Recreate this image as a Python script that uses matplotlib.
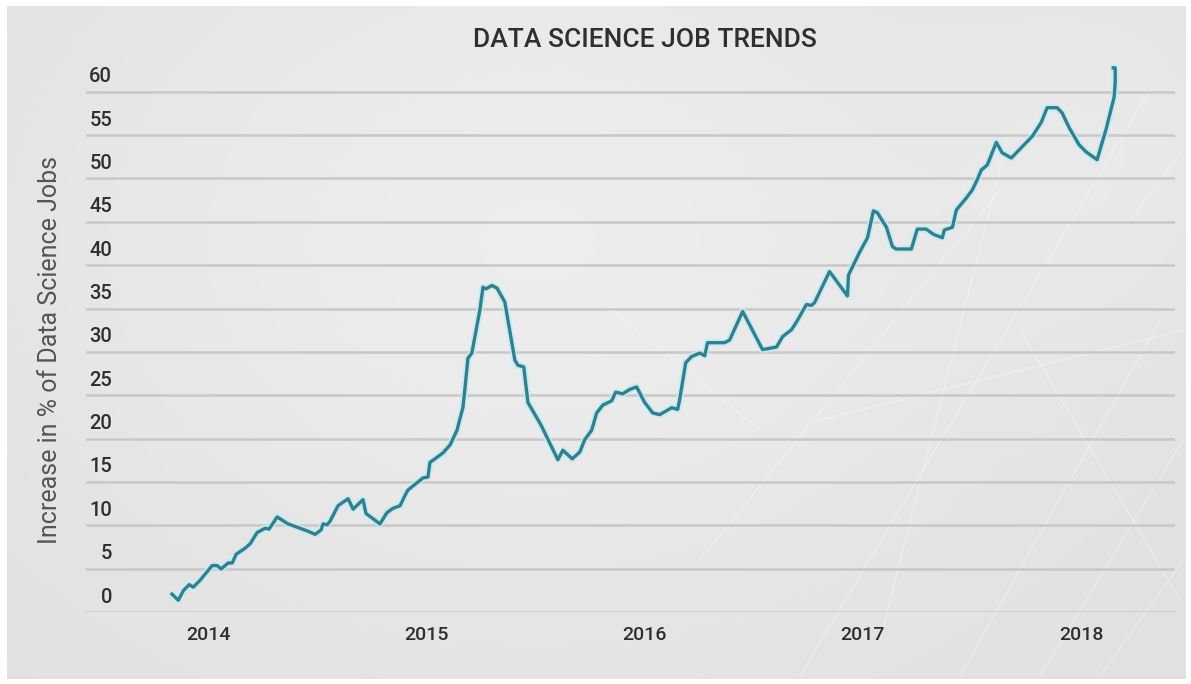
import numpy as np
import matplotlib
matplotlib.use("Agg")
import matplotlib.pyplot as plt

plt.rcParams['font.family'] = ['Roboto', 'DejaVu Sans']

# ---------------- data ----------------
title = "DATA SCIENCE JOB TRENDS"
y_label = "Increase in % of Data Science Jobs"
year_ticks = [2014, 2015, 2016, 2017, 2018]
year_labels = ["2014", "2015", "2016", "2017", "2018"]
pct_ticks = [0, 5, 10, 15, 20, 25, 30, 35, 40, 45, 50, 55, 60]

dates = [
    2013.834, 2013.863, 2013.886, 2013.913, 2013.931, 2013.963, 2014.018, 2014.041,
    2014.059, 2014.092, 2014.110, 2014.128, 2014.169, 2014.192, 2014.224, 2014.261,
    2014.279, 2014.316, 2014.366, 2014.453, 2014.490, 2014.517, 2014.526, 2014.545,
    2014.558, 2014.595, 2014.641, 2014.664, 2014.709, 2014.723, 2014.787, 2014.819,
    2014.847, 2014.879, 2014.902, 2014.915, 2014.984, 2015.007, 2015.016, 2015.039,
    2015.076, 2015.108, 2015.140, 2015.149, 2015.167, 2015.176, 2015.190, 2015.208,
    2015.245, 2015.259, 2015.272, 2015.300, 2015.323, 2015.359, 2015.405, 2015.419,
    2015.446, 2015.460, 2015.465, 2015.525, 2015.602, 2015.625, 2015.668, 2015.703,
    2015.725, 2015.757, 2015.780, 2015.808, 2015.849, 2015.867, 2015.899, 2015.931,
    2015.963, 2016.000, 2016.037, 2016.069, 2016.124, 2016.151, 2016.160, 2016.188,
    2016.215, 2016.252, 2016.275, 2016.288, 2016.366, 2016.389, 2016.449, 2016.540,
    2016.604, 2016.632, 2016.673, 2016.696, 2016.741, 2016.764, 2016.778, 2016.847,
    2016.929, 2016.934, 2016.984, 2017.021, 2017.048, 2017.066, 2017.108, 2017.135,
    2017.152, 2017.222, 2017.249, 2017.290, 2017.323, 2017.364, 2017.373, 2017.410,
    2017.428, 2017.474, 2017.501, 2017.524, 2017.542, 2017.570, 2017.611, 2017.638,
    2017.680, 2017.730, 2017.776, 2017.817, 2017.844, 2017.890, 2017.913, 2017.945,
    2017.991, 2018.023, 2018.073, 2018.114, 2018.151, 2018.156, 2018.156, 2018.147,
]
pct = [
    0.1, -0.6, 0.5, 1.2, 0.9, 1.7, 3.4, 3.4,
    3.0, 3.7, 3.7, 4.7, 5.4, 5.9, 7.2, 7.7,
    7.6, 9.0, 8.2, 7.4, 7.0, 7.5, 8.2, 8.1,
    8.5, 10.3, 11.1, 9.9, 11.0, 9.4, 8.2, 9.5,
    10.0, 10.3, 11.5, 12.1, 13.5, 13.6, 15.3, 15.7,
    16.4, 17.3, 19.0, 19.9, 21.6, 23.7, 27.3, 27.9,
    32.9, 35.5, 35.3, 35.7, 35.4, 33.8, 27.1, 26.5,
    26.3, 23.3, 22.2, 19.6, 15.6, 16.7, 15.7, 16.5,
    17.9, 19.0, 21.0, 21.9, 22.4, 23.4, 23.2, 23.7,
    24.0, 22.2, 21.0, 20.8, 21.6, 21.4, 22.5, 26.8,
    27.5, 27.9, 27.6, 29.1, 29.1, 29.4, 32.7, 28.3,
    28.6, 29.8, 30.6, 31.5, 33.5, 33.4, 33.7, 37.3,
    34.5, 36.9, 39.5, 41.2, 44.3, 44.1, 42.4, 40.2,
    39.9, 39.9, 42.2, 42.2, 41.6, 41.2, 42.1, 42.4,
    44.4, 45.8, 46.7, 47.9, 49.0, 49.6, 52.2, 51.0,
    50.4, 51.7, 52.9, 54.5, 56.2, 56.2, 55.6, 53.9,
    51.9, 51.1, 50.2, 53.7, 57.4, 59.1, 60.8, 60.8,
]

# ---------------- style ----------------
W, H = 1191, 684
GRID_SHIFT = 1.96          # grid rules sit a little below their labels
LINE_COLOR = '#31808f'
GLOW_COLOR = '#c4ecf3'
GRID_COLOR = '#c8c8c8'
TEXT_DARK = '#2f2f2f'

fig = plt.figure(figsize=(W / 100, H / 100), dpi=100)
fig.patch.set_facecolor('white')

# background panel with soft gradient
bg = fig.add_axes([0, 0, 1, 1])
bg.set_xlim(0, W)
bg.set_ylim(H, 0)
bg.axis('off')
gx = np.linspace(0, 1, 240)
gy = np.linspace(0, 1, 140)
GX, GY = np.meshgrid(gx, gy)
val = 0.88 + 0.05 * np.exp(-(((GX - 0.45) / 0.45) ** 2 + ((GY - 0.35) / 0.6) ** 2))
val += 0.02 * np.exp(-(((GX - 0.95) / 0.15) ** 2 + ((GY - 0.2) / 0.3) ** 2))
rgb = np.dstack([val, val, val])
bg.imshow(rgb, extent=(7, 1186, 679, 6), aspect='auto', interpolation='bicubic', zorder=0)

# faint decorative network lines (inside the panel)
deco = [((800, 676), (1150, 90)), ((880, 640), (1010, 130)), ((960, 676), (1160, 320)),
        ((700, 560), (1000, 190)), ((1020, 330), (1180, 600)), ((1100, 676), (1183, 560)),
        ((820, 420), (1183, 330)), ((1040, 676), (1183, 440)), ((600, 300), (760, 430)),
        ((1130, 220), (1183, 150))]
for (x0, y0), (x1, y1) in deco:
    bg.plot([x0, x1], [y0, y1], color='white', lw=0.9, alpha=0.35, zorder=1)

# main axes
left, right, bottom_px, top_px = 86, 1175, 612, 49
ax = fig.add_axes([left / W, (H - bottom_px) / H, (right - left) / W, (bottom_px - top_px) / H])
ax.patch.set_alpha(0)
ax.set_xlim(2013.44, 2018.43)
ax.set_ylim(-GRID_SHIFT, 62.97)
for s in ax.spines.values():
    s.set_visible(False)

ax.set_yticks(pct_ticks)
ax.set_yticklabels([str(v) for v in pct_ticks], fontweight='medium')
ax.set_yticks([v - GRID_SHIFT for v in pct_ticks], minor=True)
ax.grid(which='minor', axis='y', color=GRID_COLOR, lw=1.8)
ax.set_xticks(year_ticks)
ax.set_xticklabels(year_labels, fontweight='medium')
ax.tick_params(axis='both', which='both', length=0)
ax.tick_params(axis='y', which='major', pad=-18.7, labelsize=14.5, labelcolor=TEXT_DARK)
ax.tick_params(axis='x', which='major', pad=10, labelsize=14, labelcolor=TEXT_DARK)

ax.plot(dates, pct, color=GLOW_COLOR, lw=5.2, alpha=0.8, solid_joinstyle='round', zorder=3)
ax.plot(dates, pct, color=LINE_COLOR, lw=2.4, solid_joinstyle='round', zorder=4)

fig.text(645 / W, 1 - 40 / H, title, ha='center', va='center', fontsize=19,
         fontweight='medium', color=TEXT_DARK)
fig.text(50 / W, 1 - 350 / H, y_label, rotation=90, ha='center', va='center',
         fontsize=18, color='#555555')

fig.savefig('out.png', dpi=100, facecolor='white')
